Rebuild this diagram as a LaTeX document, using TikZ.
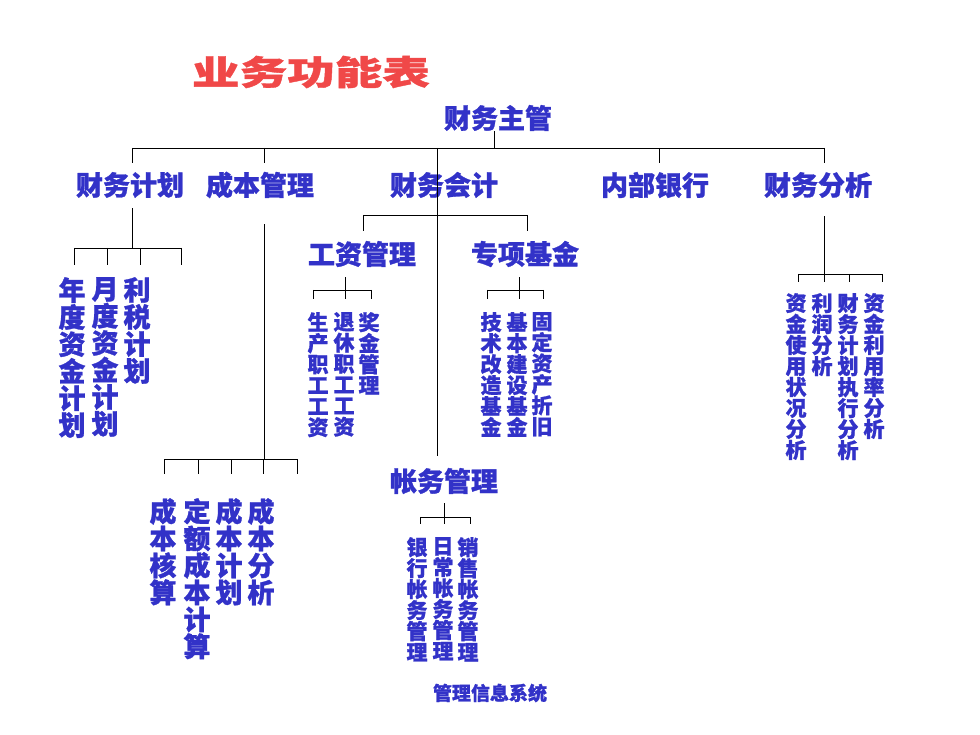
\documentclass[tikz,border=0pt]{standalone}
\usepackage{fontspec}
\newfontfamily\cjk{Noto Sans CJK SC}[BoldFeatures={FakeBold=1}]
\usepackage{xcolor}
\definecolor{labelblue}{RGB}{50,50,200}
\definecolor{titlered}{RGB}{240,72,72}

\begin{document}
\begin{tikzpicture}[x=1pt, y=-1pt,
    big/.style={inner sep=0pt, text=labelblue, font=\cjk\bfseries\fontsize{27}{27}\selectfont},
    col/.style={big, anchor=north, align=center},
    small/.style={inner sep=0pt, anchor=north, align=center, text=labelblue, font=\cjk\bfseries\fontsize{21}{21}\selectfont},
    link/.style={black, line width=0.8pt}]
    \useasboundingbox (0,0) rectangle (980,735);

    \node[inner sep=0pt, text=titlered, xscale=1.4, font=\cjk\bfseries\fontsize{34}{34}\selectfont] (title) at (311,72) {业务功能表};

    \node[big] (boss) at (498,118) {财务主管};
    \node[big] (plan) at (130,185) {财务计划};
    \node[big] (cost) at (260,185) {成本管理};
    \node[big] (acct) at (444,185) {财务会计};
    \node[big] (bank) at (655,185) {内部银行};
    \node[big] (anal) at (818,185) {财务分析};
    \node[big] (wage) at (362,254) {工资管理};
    \node[big] (fund) at (525,254) {专项基金};
    \node[big] (book) at (444,481) {帐务管理};

    \node[col] (yr) at (72,277) {年\\度\\资\\金\\计\\划};
    \node[col] (mon) at (105,277) {月\\度\\资\\金\\计\\划};
    \node[col] (tax) at (137,277) {利\\税\\计\\划};

    \node[col] (check) at (163,498) {成\\本\\核\\算};
    \node[col] (quota) at (197,498) {定\\额\\成\\本\\计\\算};
    \node[col] (cplan) at (229,498) {成\\本\\计\\划};
    \node[col] (cana) at (261,498) {成\\本\\分\\析};

    \node[small] (prod) at (318,312) {生\\产\\职\\工\\工\\资};
    \node[small] (retire) at (344,312) {退\\休\\职\\工\\工\\资};
    \node[small] (bonus) at (369,312) {奖\\金\\管\\理};

    \node[small] (tech) at (491,312) {技\\术\\改\\造\\基\\金};
    \node[small] (build) at (517,312) {基\\本\\建\\设\\基\\金};
    \node[small] (fixed) at (542,312) {固\\定\\资\\产\\折\\旧};

    \node[small] (bankbk) at (417,537) {银\\行\\帐\\务\\管\\理};
    \node[small] (daily) at (443,537) {日\\常\\帐\\务\\管\\理};
    \node[small] (sales) at (468,537) {销\\售\\帐\\务\\管\\理};

    \node[small] (usage) at (796,293) {资\\金\\使\\用\\状\\况\\分\\析};
    \node[small] (profit) at (822,293) {利\\润\\分\\析};
    \node[small] (exec) at (848,293) {财\\务\\计\\划\\执\\行\\分\\析};
    \node[small] (rate) at (874,293) {资\\金\\利\\用\\率\\分\\析};

    \node[inner sep=0pt, text=labelblue, font=\cjk\bfseries\fontsize{19}{19}\selectfont] (sys) at (490,693) {管理信息系统};

    % top level
    \coordinate (b0) at (494,148);
    \coordinate (b1) at (132,148);
    \coordinate (b2) at (264,148);
    \coordinate (b3) at (437,148);
    \coordinate (b4) at (659,148);
    \coordinate (b5) at (824,148);
    \draw[link] (boss.south -| b0) -- (b0);
    \draw[link] (b1) -- (b5);
    \draw[link, shorten >=9pt] (b1) -- (b1 |- plan.north);
    \draw[link, shorten >=9pt] (b2) -- (b2 |- cost.north);
    \draw[link, shorten >=12pt] (b3) -- (b3 |- book.north);
    \draw[link, shorten >=9pt] (b4) -- (b4 |- bank.north);
    \draw[link, shorten >=9pt] (b5) -- (b5 |- anal.north);

    % plan
    \coordinate (p0) at (132,248);
    \coordinate (p1) at (74,248);
    \coordinate (p2) at (107,248);
    \coordinate (p3) at (140,248);
    \coordinate (p4) at (181,248);
    \draw[link, shorten <=10pt] (plan.south -| p0) -- (p0);
    \draw[link] (p1) -- (p4);
    \draw[link, shorten >=12pt] (p1) -- (p1 |- yr.north);
    \draw[link, shorten >=12pt] (p2) -- (p2 |- mon.north);
    \draw[link, shorten >=12pt] (p3) -- (p3 |- tax.north);
    \draw[link, shorten >=12pt] (p4) -- (p4 |- tax.north);

    % cost
    \coordinate (c0) at (264,459);
    \coordinate (c1) at (164,459);
    \coordinate (c2) at (198,459);
    \coordinate (c3) at (231,459);
    \coordinate (c4) at (263,459);
    \coordinate (c5) at (297,459);
    \draw[link, shorten <=26pt] (cost.south -| c0) -- (c0);
    \draw[link] (c1) -- (c5);
    \draw[link, shorten >=24pt] (c1) -- (c1 |- check.north);
    \draw[link, shorten >=24pt] (c2) -- (c2 |- quota.north);
    \draw[link, shorten >=24pt] (c3) -- (c3 |- cplan.north);
    \draw[link, shorten >=24pt] (c4) -- (c4 |- cana.north);
    \draw[link, shorten >=24pt] (c5) -- (c5 |- cana.north);

    % acct
    \coordinate (a1) at (363,215);
    \coordinate (a2) at (527,215);
    \draw[link] (a1) -- (a2);
    \draw[link, shorten >=10pt] (a1) -- (a1 |- wage.north);
    \draw[link, shorten >=10pt] (a2) -- (a2 |- fund.north);

    % wage
    \coordinate (w0) at (345,290);
    \coordinate (w1) at (313,290);
    \coordinate (w3) at (371,290);
    \draw[link, shorten <=10pt] (wage.south -| w0) -- (w0);
    \draw[link] (w1) -- (w3);
    \draw[link, shorten >=13pt] (w1) -- (w1 |- prod.north);
    \draw[link, shorten >=13pt] (w0) -- (w0 |- retire.north);
    \draw[link, shorten >=13pt] (w3) -- (w3 |- bonus.north);

    % fund
    \coordinate (f0) at (519,290);
    \coordinate (f1) at (487,290);
    \coordinate (f3) at (543,290);
    \draw[link, shorten <=10pt] (fund.south -| f0) -- (f0);
    \draw[link] (f1) -- (f3);
    \draw[link, shorten >=13pt] (f1) -- (f1 |- tech.north);
    \draw[link, shorten >=13pt] (f0) -- (f0 |- build.north);
    \draw[link, shorten >=13pt] (f3) -- (f3 |- fixed.north);

    % book
    \coordinate (k0) at (444,517);
    \coordinate (k1) at (420,517);
    \coordinate (k3) at (470,517);
    \draw[link, shorten <=9pt] (book.south -| k0) -- (k0);
    \draw[link] (k1) -- (k3);
    \draw[link, shorten >=13pt] (k1) -- (k1 |- bankbk.north);
    \draw[link, shorten >=13pt] (k0) -- (k0 |- daily.north);
    \draw[link, shorten >=13pt] (k3) -- (k3 |- sales.north);

    % anal
    \coordinate (n0) at (824,274);
    \coordinate (n1) at (798,274);
    \coordinate (n3) at (849,274);
    \coordinate (n4) at (882,274);
    \draw[link, shorten <=18pt] (anal.south -| n0) -- (n0);
    \draw[link] (n1) -- (n4);
    \draw[link, shorten >=11pt] (n1) -- (n1 |- usage.north);
    \draw[link, shorten >=11pt] (n0) -- (n0 |- profit.north);
    \draw[link, shorten >=11pt] (n3) -- (n3 |- exec.north);
    \draw[link, shorten >=11pt] (n4) -- (n4 |- rate.north);
\end{tikzpicture}
\end{document}
